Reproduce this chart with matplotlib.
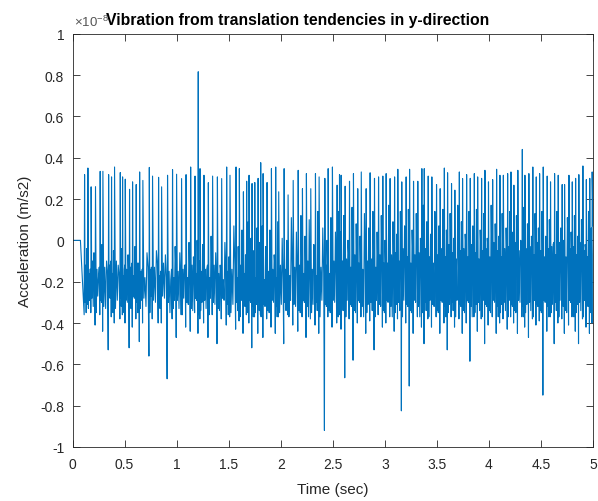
import numpy as np
import matplotlib
matplotlib.use("Agg")
import matplotlib.pyplot as plt

plt.rcParams['font.family'] = ['Liberation Sans', 'DejaVu Sans']
plt.rcParams['axes.unicode_minus'] = False

# ---- data (acceleration in units of 1e-8 m/s^2) ----
spike_t = [
    0.116, 0.148, 0.179, 0.221, 0.266, 0.292, 0.347, 0.375, 0.404, 0.459, 0.481, 0.507, 0.548, 0.577, 0.612, 0.645, 0.676, 0.738, 0.769, 0.827,
    0.856, 0.913, 0.961, 1.000, 1.048, 1.091, 1.135, 1.177, 1.208, 1.225, 1.263, 1.305, 1.346, 1.392, 1.433, 1.481, 1.513, 1.571, 1.603, 1.642, 1.673,
    1.696, 1.725, 1.751, 1.783, 1.808, 1.831, 1.869, 1.911, 1.952, 1.981, 2.033, 2.071, 2.120, 2.168, 2.209, 2.247, 2.289, 2.334, 2.369, 2.424, 2.456, 2.497,
    2.542, 2.565, 2.581, 2.619, 2.661, 2.699, 2.740, 2.774, 2.821, 2.859, 2.901, 2.940, 2.981, 3.013, 3.051, 3.094, 3.125, 3.163, 3.205, 3.238, 3.276, 3.317, 3.356,
    3.379, 3.417, 3.452, 3.497, 3.532, 3.572, 3.603, 3.641, 3.673, 3.716, 3.747, 3.786, 3.821, 3.860, 3.892, 3.930, 3.962, 3.996, 4.036, 4.074, 4.106, 4.139, 4.180, 4.212,
    4.240, 4.278, 4.321, 4.346, 4.384, 4.422, 4.455, 4.487, 4.522, 4.560, 4.592, 4.631, 4.666, 4.704, 4.727, 4.769, 4.801, 4.833, 4.864, 4.903, 4.936, 4.969, 4.992]

spike_hi = [
    0.318, 0.35, 0.259, 0.26, 0.334, 0.334, 0.318, 0.307, 0.355, 0.328, 0.307, 0.296, 0.247, 0.283, 0.27, 0.331, 0.29, 0.353, 0.311, 0.305,
    0.259, 0.315, 0.342, 0.32, 0.299, 0.318, 0.355, 0.311, 0.816, 0.347, 0.315, 0.279, 0.311, 0.307, 0.299, 0.355, 0.315, 0.355, 0.347, 0.235, 0.286,
    0.315, 0.275, 0.28, 0.3, 0.376, 0.323, 0.28, 0.347, 0.355, 0.235, 0.347, 0.22, 0.29, 0.339, 0.25, 0.323, 0.25, 0.323, 0.307, 0.3, 0.347, 0.355,
    0.267, 0.318, 0.315, 0.262, 0.286, 0.323, 0.25, 0.331, 0.25, 0.327, 0.3, 0.307, 0.311, 0.323, 0.299, 0.307, 0.344, 0.283, 0.307, 0.344, 0.286, 0.286, 0.347,
    0.347, 0.311, 0.307, 0.27, 0.25, 0.35, 0.327, 0.275, 0.243, 0.331, 0.299, 0.318, 0.3, 0.323, 0.307, 0.3, 0.339, 0.283, 0.294, 0.344, 0.315, 0.315, 0.323, 0.331,
    0.267, 0.339, 0.44, 0.315, 0.323, 0.355, 0.307, 0.323, 0.355, 0.311, 0.283, 0.323, 0.315, 0.27, 0.27, 0.315, 0.283, 0.3, 0.318, 0.36, 0.294, 0.3, 0.331]

# trough reached just before each spike
spike_lo = [
    -0.36, -0.31, -0.35, -0.41, -0.36, -0.44, -0.53, -0.37, -0.40, -0.38, -0.36, -0.40, -0.52, -0.42, -0.38, -0.49, -0.40, -0.56, -0.38, -0.40,
    -0.40, -0.67, -0.38, -0.47, -0.36, -0.42, -0.44, -0.35, -0.45, -0.38, -0.40, -0.47, -0.36, -0.50, -0.38, -0.41, -0.37, -0.43, -0.39, -0.45, -0.36,
    -0.40, -0.52, -0.37, -0.45, -0.36, -0.47, -0.38, -0.42, -0.45, -0.37, -0.50, -0.36, -0.41, -0.44, -0.37, -0.47, -0.38, -0.41, -0.45, -0.92, -0.37, -0.42,
    -0.40, -0.36, -0.43, -0.665, -0.38, -0.58, -0.40, -0.37, -0.45, -0.39, -0.53, -0.36, -0.42, -0.40, -0.37, -0.44, -0.38, -0.825, -0.40, -0.705, -0.45, -0.37, -0.42,
    -0.50, -0.38, -0.42, -0.37, -0.45, -0.40, -0.53, -0.37, -0.42, -0.38, -0.45, -0.40, -0.585, -0.37, -0.44, -0.38, -0.50, -0.41, -0.37, -0.45, -0.40, -0.38, -0.43, -0.37,
    -0.40, -0.45, -0.37, -0.42, -0.47, -0.38, -0.41, -0.39, -0.749, -0.44, -0.37, -0.50, -0.40, -0.38, -0.45, -0.41, -0.37, -0.44, -0.50, -0.38, -0.42, -0.45, -0.40]

# band levels per 0.5 s segment (0-0.5, 0.5-1.0, ..., 4.5-5.0)
sec_hi = [-0.07, -0.08, -0.03, 0.04, 0.09, 0.11, 0.12, 0.12, 0.11, 0.09]
band_hi = [-0.14, -0.15, -0.16, -0.16, -0.14, -0.11, -0.08, -0.06, -0.05, -0.05]
band_lo = [-0.30, -0.30, -0.31, -0.32, -0.32, -0.32, -0.32, -0.32, -0.32, -0.32]
# cycle-to-cycle deviations read as the ragged band edges
sec_dev = [0.03, -0.07, 0.01, -0.11, 0.05, -0.03, -0.09, 0.02, -0.05]
lo_dev = [0.00, -0.03, 0.02, -0.05, 0.01, -0.02, 0.03]
hi_dev = [0.02, -0.02, 0.04, 0.00, -0.03, 0.01]

start_t = [0.0, 0.076]
start_v = [0.0, 0.0]
end_t, end_v = 5.0, 0.07

x_ticks = [0, 0.5, 1, 1.5, 2, 2.5, 3, 3.5, 4, 4.5, 5]
x_labels = ['0', '0.5', '1', '1.5', '2', '2.5', '3', '3.5', '4', '4.5', '5']
y_ticks = [-1, -0.8, -0.6, -0.4, -0.2, 0, 0.2, 0.4, 0.6, 0.8, 1]
y_labels = ['-1', '-0.8', '-0.6', '-0.4', '-0.2', '0', '0.2', '0.4', '0.6', '0.8', '1']

assert len(spike_t) == len(spike_hi) == len(spike_lo)

# ---- build the line path from the read values ----
tt = list(start_t)
vv = list(start_v)
n = len(spike_t)
fr = [0.16, 0.32, 0.48, 0.64, 0.80]
for i in range(n):
    t0 = spike_t[i]
    dprev = t0 - spike_t[i - 1] if i > 0 else 0.3
    tt.append(t0 - min(0.1 * dprev, 0.004))
    vv.append(spike_lo[i])
    tt.append(t0)
    vv.append(spike_hi[i])
    if i == n - 1:
        break
    d = spike_t[i + 1] - t0
    b = min(int(t0 / 0.5), 9)
    s = sec_hi[b] + sec_dev[i % len(sec_dev)]
    lo1 = band_lo[b] + lo_dev[i % len(lo_dev)]
    lo2 = band_lo[b] + lo_dev[(i + 3) % len(lo_dev)]
    h1 = band_hi[b] + hi_dev[i % len(hi_dev)]
    h2 = band_hi[b] + hi_dev[(i + 2) % len(hi_dev)]
    for f, v in zip(fr, [lo1, h1, lo2, s, h2]):
        tt.append(t0 + f * d)
        vv.append(v)
tt.append(end_t)
vv.append(end_v)

# ---- figure ----
W, H = 598, 502
fig = plt.figure(figsize=(W / 100, H / 100), dpi=100)
ax = fig.add_axes([72.5 / W, (H - 448) / H, 520.5 / W, 413.3 / H])
ax.plot(tt, vv, color='#0072BD', lw=0.8)
ax.set_xlim(0, 5)
ax.set_ylim(-1, 1)

tc = '#262626'
ax.set_xticks(x_ticks)
ax.set_xticklabels(x_labels)
ax.set_yticks(y_ticks)
ax.set_yticklabels(y_labels)
ax.tick_params(direction='in', length=5, width=0.6, colors=tc, labelsize=10,
               top=True, right=True)
ax.tick_params(axis='x', pad=7)
ax.tick_params(axis='y', pad=6)
for sp in ax.spines.values():
    sp.set_color(tc)
    sp.set_linewidth(0.6)

ax.set_xlabel('Time (sec)', fontsize=11, color=tc, labelpad=8)
ax.set_ylabel('Acceleration (m/s2)', fontsize=11, color=tc, labelpad=6)
fig.text(106 / W, 1 - 20 / H, 'Vibration from translation tendencies in y-direction',
         ha='left', va='center', fontsize=11.3, fontweight='bold', color='black')
fig.text(74 / W, 1 - 27 / H, r'$\mathregular{\times10^{-8}}$', ha='left',
         va='baseline', fontsize=9.5, color='#555555')

fig.savefig('out.png', dpi=100)
